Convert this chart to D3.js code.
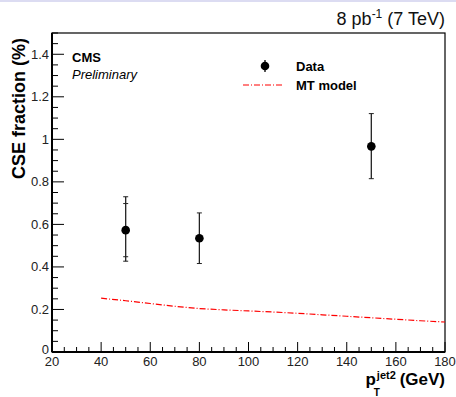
<!DOCTYPE html>
<html>
<head>
<meta charset="utf-8">
<script src="https://cdn.jsdelivr.net/npm/d3@7"></script>
<style>
  body { margin: 0; background: #fff; }
  svg { display: block; font-family: "Liberation Sans", Arial, sans-serif; }
</style>
</head>
<body>
<svg width="456" height="397"></svg>
<script>
// data points: pT of second jet (GeV), CSE fraction (%)
const dataX = [50, 80, 150];
const dataY = [0.573, 0.535, 0.967];
const statLo = [0.448, 0.416, 0.815];
const statHi = [0.698, 0.654, 1.121];
const totLo = [0.427, 0.416, 0.815];
const totHi = [0.730, 0.654, 1.121];

// MT model curve
const modelX = [40, 50, 60, 70, 80, 90, 100, 110, 120, 130, 140, 150, 160, 170, 180];
const modelY = [0.253, 0.241, 0.228, 0.215, 0.204, 0.198, 0.193, 0.188, 0.182, 0.175, 0.168, 0.161, 0.154, 0.147, 0.141];

const xTicks = [20, 40, 60, 80, 100, 120, 140, 160, 180];
const yTicks = [0, 0.2, 0.4, 0.6, 0.8, 1, 1.2, 1.4];

const svg = d3.select("svg");
const padL = 52, padR = 445, padT = 33, padB = 352;

const x = d3.scaleLinear().domain([20, 180]).range([padL, padR]);
const y = d3.scaleLinear().domain([0, 1.5]).range([padB, padT]);

// thin lavender strip at the top of the picture
svg.append("rect").attr("x", 0).attr("y", 0).attr("width", 456).attr("height", 2).attr("fill", "#dcdcf2");

// frame
svg.append("rect")
  .attr("x", padL).attr("y", padT)
  .attr("width", padR - padL).attr("height", padB - padT)
  .attr("fill", "none").attr("stroke", "#000").attr("stroke-width", 1.2);

// x axis: ticks pointing up into the plot
const xMinor = d3.range(20, 181, 5).filter(v => v % 20 !== 0);
const gx = svg.append("g").attr("transform", `translate(0,${padB})`);
gx.selectAll("line.minor").data(xMinor).enter().append("line")
  .attr("x1", d => x(d)).attr("x2", d => x(d)).attr("y1", 0).attr("y2", -5)
  .attr("stroke", "#000").attr("stroke-width", 1);
gx.selectAll("line.major").data(xTicks).enter().append("line")
  .attr("x1", d => x(d)).attr("x2", d => x(d)).attr("y1", 0).attr("y2", -10)
  .attr("stroke", "#000").attr("stroke-width", 1);
gx.append("line").attr("x1", padL).attr("x2", padR).attr("stroke", "#000").attr("stroke-width", 2);
gx.selectAll("text").data(xTicks).enter().append("text")
  .attr("x", d => x(d)).attr("y", 14)
  .attr("text-anchor", "middle").attr("font-size", 13).attr("fill", "#222")
  .text(d => d);

// y axis: ticks pointing right into the plot
const yMinor = d3.range(0, 1.501, 0.05).filter(v => Math.abs(v * 5 - Math.round(v * 5)) > 1e-6);
const gy = svg.append("g").attr("transform", `translate(${padL},0)`);
gy.selectAll("line.minor").data(yMinor).enter().append("line")
  .attr("x1", 0).attr("x2", 6).attr("y1", d => y(d)).attr("y2", d => y(d))
  .attr("stroke", "#000").attr("stroke-width", 1);
gy.selectAll("line.major").data(yTicks).enter().append("line")
  .attr("x1", 0).attr("x2", 12).attr("y1", d => y(d)).attr("y2", d => y(d))
  .attr("stroke", "#000").attr("stroke-width", 1);
gy.append("line").attr("y1", padT).attr("y2", padB).attr("stroke", "#000").attr("stroke-width", 2);
gy.selectAll("text").data(yTicks).enter().append("text")
  .attr("x", -3).attr("y", d => y(d) + (d === 0 ? 1.5 : 4.5))
  .attr("text-anchor", "end").attr("font-size", 13).attr("fill", "#222")
  .text(d => d);

// MT model, red dash-dot
const line = d3.line().x(d => x(d[0])).y(d => y(d[1]));
svg.append("path")
  .datum(modelX.map((v, i) => [v, modelY[i]]))
  .attr("d", line)
  .attr("fill", "none").attr("stroke", "#ff0000").attr("stroke-width", 1.2)
  .attr("stroke-dasharray", "6,2,1,2");

// data error bars and points
const pts = dataX.map((v, i) => ({x: v, y: dataY[i], sl: statLo[i], sh: statHi[i], tl: totLo[i], th: totHi[i]}));
const gp = svg.append("g");
gp.selectAll("line.tot").data(pts).enter().append("line")
  .attr("x1", d => x(d.x)).attr("x2", d => x(d.x))
  .attr("y1", d => y(d.tl)).attr("y2", d => y(d.th))
  .attr("stroke", "#222").attr("stroke-width", 1.3);
const caps = [];
pts.forEach(d => {
  caps.push({x: d.x, v: d.tl}, {x: d.x, v: d.th});
  if (d.sl !== d.tl) caps.push({x: d.x, v: d.sl});
  if (d.sh !== d.th) caps.push({x: d.x, v: d.sh});
});
gp.selectAll("line.cap").data(caps).enter().append("line")
  .attr("x1", d => x(d.x) - 2.5).attr("x2", d => x(d.x) + 2.5)
  .attr("y1", d => y(d.v)).attr("y2", d => y(d.v))
  .attr("stroke", "#222").attr("stroke-width", 1);
gp.selectAll("circle").data(pts).enter().append("circle")
  .attr("cx", d => x(d.x)).attr("cy", d => y(d.y)).attr("r", 4.3)
  .attr("fill", "#000");

// text labels
svg.append("text").attr("x", 445).attr("y", 25).attr("text-anchor", "end")
  .attr("font-size", 18).attr("fill", "#111")
  .html('8 pb<tspan dy="-7" font-size="12">-1</tspan><tspan dy="7"> (7 TeV)</tspan>');

svg.append("text").attr("x", 72).attr("y", 62).attr("font-size", 13)
  .attr("font-weight", "bold").text("CMS");
svg.append("text").attr("x", 72).attr("y", 79).attr("font-size", 13)
  .attr("font-style", "italic").text("Preliminary");

// legend
svg.append("line").attr("x1", 265).attr("x2", 265).attr("y1", 60).attr("y2", 72)
  .attr("stroke", "#000").attr("stroke-width", 1.3);
svg.append("circle").attr("cx", 265).attr("cy", 66).attr("r", 4.3).attr("fill", "#000");
svg.append("text").attr("x", 296).attr("y", 71).attr("font-size", 13)
  .attr("font-weight", "bold").text("Data");
svg.append("line").attr("x1", 243).attr("x2", 284).attr("y1", 85).attr("y2", 85)
  .attr("stroke", "#ff0000").attr("stroke-width", 1.2).attr("stroke-dasharray", "6,2,1,2");
svg.append("text").attr("x", 296).attr("y", 90).attr("font-size", 13)
  .attr("font-weight", "bold").text("MT model");

// axis titles
svg.append("text")
  .attr("transform", "translate(25,38) rotate(-90)")
  .attr("text-anchor", "end").attr("font-size", 18).attr("font-weight", "bold")
  .text("CSE fraction (%)");

const xt = svg.append("text").attr("x", 445).attr("y", 385).attr("text-anchor", "end")
  .attr("font-size", 17).attr("font-weight", "bold");
xt.append("tspan").text("p");
xt.append("tspan").attr("font-size", 11).attr("dx", 1).attr("dy", -6).text("jet2");
xt.append("tspan").attr("font-size", 10).attr("dx", -22).attr("dy", 17).text("T");
xt.append("tspan").attr("dx", 15).attr("dy", -11).text(" (GeV)");
</script>
</body>
</html>
